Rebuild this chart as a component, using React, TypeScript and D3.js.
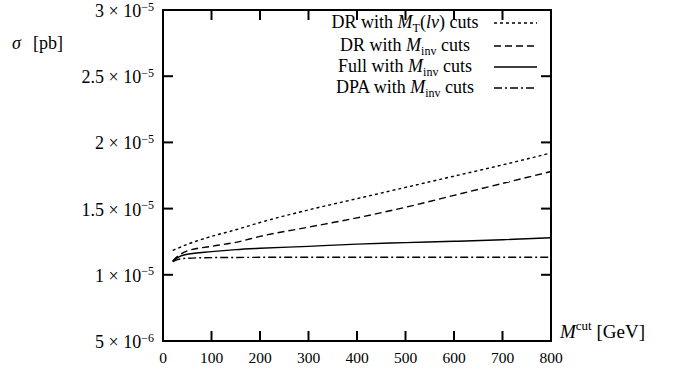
import { useEffect, useRef } from 'react';
import * as d3 from 'd3';

// M^cut values in GeV
const mcut = [20, 30, 50, 100, 150, 200, 300, 400, 500, 600, 700, 800];

// cross sections in pb
const drMt = [1.185e-5, 1.2e-5, 1.23e-5, 1.29e-5, 1.34e-5, 1.395e-5, 1.49e-5, 1.575e-5, 1.66e-5, 1.745e-5, 1.83e-5, 1.92e-5];
const drMinv = [1.105e-5, 1.14e-5, 1.18e-5, 1.215e-5, 1.245e-5, 1.29e-5, 1.36e-5, 1.43e-5, 1.51e-5, 1.6e-5, 1.69e-5, 1.78e-5];
const fullMinv = [1.1e-5, 1.13e-5, 1.155e-5, 1.175e-5, 1.19e-5, 1.2e-5, 1.215e-5, 1.232e-5, 1.243e-5, 1.253e-5, 1.265e-5, 1.28e-5];
const dpaMinv = [1.1e-5, 1.115e-5, 1.125e-5, 1.13e-5, 1.131e-5, 1.132e-5, 1.132e-5, 1.132e-5, 1.132e-5, 1.132e-5, 1.132e-5, 1.132e-5];

const xTicks = [0, 100, 200, 300, 400, 500, 600, 700, 800];
const yTicks = [5e-6, 1e-5, 1.5e-5, 2e-5, 2.5e-5, 3e-5];
const yTickMant = ['5', '1', '1.5', '2', '2.5', '3'];
const yTickExp = ['−6', '−5', '−5', '−5', '−5', '−5'];

type Seg = { t: string; it?: boolean; sub?: boolean };
const legendLabels: Seg[][] = [
    [{ t: 'DR with ' }, { t: 'M', it: true }, { t: 'T', sub: true }, { t: '(' }, { t: 'lν', it: true }, { t: ') cuts' }],
    [{ t: 'DR with ' }, { t: 'M', it: true }, { t: 'inv', sub: true }, { t: ' cuts' }],
    [{ t: 'Full with ' }, { t: 'M', it: true }, { t: 'inv', sub: true }, { t: ' cuts' }],
    [{ t: 'DPA with ' }, { t: 'M', it: true }, { t: 'inv', sub: true }, { t: ' cuts' }],
];
const seriesValues = [drMt, drMinv, fullMinv, dpaMinv];
const dashes = ['3,3', '7,4', 'none', '8,3,2,3'];

const W = 684;
const H = 373;
const FONT = '"Liberation Serif", "DejaVu Serif", serif';

export default function App() {
    const svgRef = useRef<SVGSVGElement>(null);

    useEffect(() => {
        if (!svgRef.current) return;
        const svg = d3.select(svgRef.current);
        svg.selectAll('*').remove();

        const left = 163, right = 551, top = 10, bottom = 341;
        const x = d3.scaleLinear().domain([0, 800]).range([left, right]);
        const y = d3.scaleLinear().domain([5e-6, 3e-5]).range([bottom, top]);

        const g = svg.append('g').attr('font-family', FONT).attr('fill', '#000');

        // curves
        const line = d3.line<number>()
            .x((_, i) => x(mcut[i]))
            .y(d => y(d))
            .curve(d3.curveMonotoneX);

        seriesValues.forEach((vals, i) => {
            g.append('path')
                .attr('d', line(vals))
                .attr('fill', 'none')
                .attr('stroke', '#000')
                .attr('stroke-width', 1.4)
                .attr('stroke-dasharray', dashes[i]);
        });

        // ticks (inward, all four sides)
        const tl = 10;
        const ticks = g.append('g').attr('stroke', '#000').attr('stroke-width', 2);
        xTicks.forEach(t => {
            ticks.append('line').attr('x1', x(t)).attr('x2', x(t)).attr('y1', bottom).attr('y2', bottom - tl);
            ticks.append('line').attr('x1', x(t)).attr('x2', x(t)).attr('y1', top).attr('y2', top + tl);
        });
        yTicks.forEach(t => {
            ticks.append('line').attr('x1', left).attr('x2', left + tl).attr('y1', y(t)).attr('y2', y(t));
            ticks.append('line').attr('x1', right).attr('x2', right - tl).attr('y1', y(t)).attr('y2', y(t));
        });

        // frame
        g.append('rect')
            .attr('x', left).attr('y', top)
            .attr('width', right - left).attr('height', bottom - top)
            .attr('fill', 'none').attr('stroke', '#000').attr('stroke-width', 2);

        // x tick labels
        g.append('g')
            .selectAll('text')
            .data(xTicks)
            .join('text')
            .attr('x', d => x(d))
            .attr('y', bottom + 22)
            .attr('text-anchor', 'middle')
            .attr('font-family', FONT)
            .style('font-size', '15.5px')
            .text(d => d);

        // y tick labels
        yTicks.forEach((t, i) => {
            const txt = g.append('text')
                .attr('x', left - 9)
                .attr('y', y(t) + 7)
                .attr('text-anchor', 'end')
                .attr('font-family', FONT)
                .style('font-size', '18px');
            txt.append('tspan').text(`${yTickMant[i]} × 10`);
            txt.append('tspan').attr('dy', -6.5).style('font-size', '12px').text(yTickExp[i]);
        });

        // axis titles
        const yl = g.append('text').attr('x', 12).attr('y', 49)
            .attr('font-family', FONT).style('font-size', '18px');
        yl.append('tspan').style('font-style', 'italic').text('σ');
        yl.append('tspan').text('[pb]').attr('dx', 12);

        const xl = g.append('text').attr('x', 560).attr('y', 338)
            .attr('font-family', FONT).style('font-size', '19px');
        xl.append('tspan').style('font-style', 'italic').text('M');
        xl.append('tspan').attr('dy', -8).style('font-size', '13px').text('cut');
        xl.append('tspan').attr('dy', 8).text(' [GeV]');

        // legend
        const rowY = [28, 51, 72, 93];
        legendLabels.forEach((segs, i) => {
            const txt = g.append('text')
                .attr('x', 405)
                .attr('y', rowY[i])
                .attr('text-anchor', 'middle')
                .attr('font-family', FONT)
                .style('font-size', '18px');
            let shifted = false;
            segs.forEach(s => {
                const ts = txt.append('tspan').text(s.t);
                if (s.it) ts.style('font-style', 'italic');
                if (s.sub) {
                    ts.attr('dy', 4).style('font-size', '12px');
                    shifted = true;
                } else if (shifted) {
                    ts.attr('dy', -4);
                    shifted = false;
                }
            });
            g.append('line')
                .attr('x1', 494).attr('x2', 537)
                .attr('y1', rowY[i] - 5).attr('y2', rowY[i] - 5)
                .attr('stroke', '#000')
                .attr('stroke-width', 1.4)
                .attr('stroke-dasharray', dashes[i]);
        });
    }, []);

    return (
        <svg
            ref={svgRef}
            width={W}
            height={H}
            style={{ position: 'absolute', left: 0, top: 0, background: '#fff' }}
        />
    );
}
